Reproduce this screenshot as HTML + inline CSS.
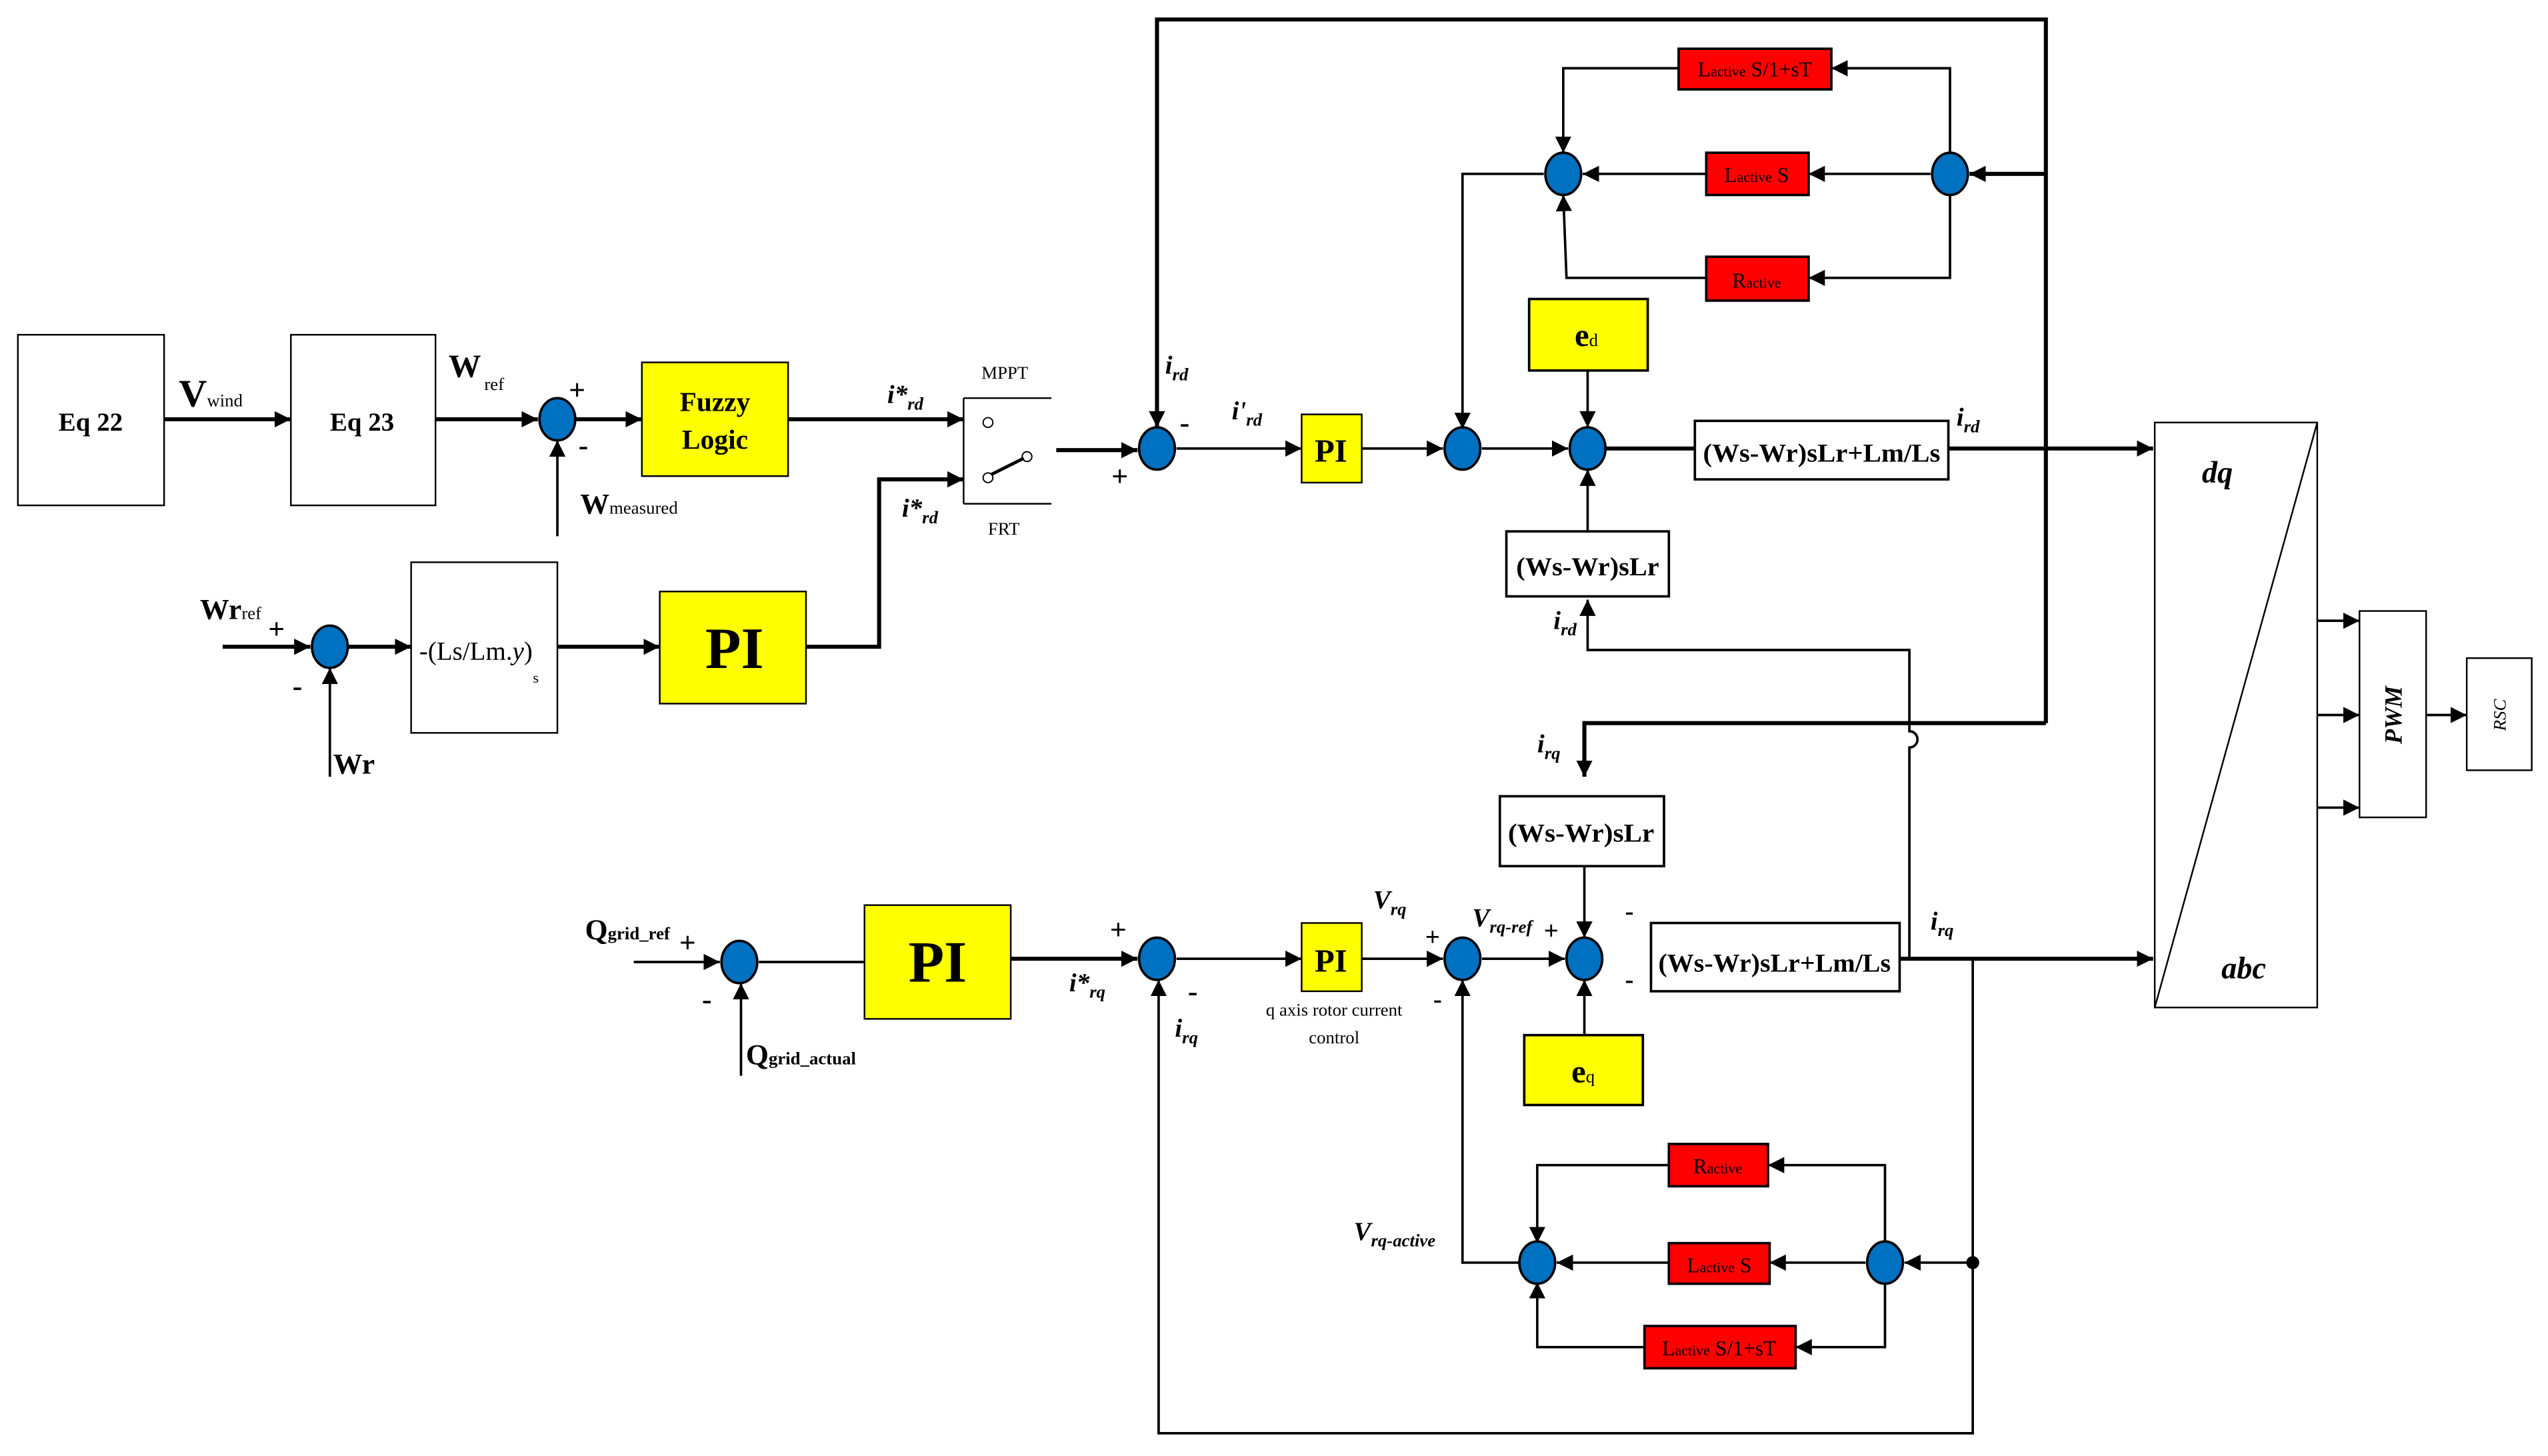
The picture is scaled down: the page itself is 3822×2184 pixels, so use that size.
<!DOCTYPE html>
<html><head><meta charset="utf-8"><style>html,body{margin:0;padding:0;background:#fff}svg{display:block}</style></head><body>
<svg width="3822" height="2184" viewBox="0 0 1568 896" xmlns="http://www.w3.org/2000/svg" font-family="Liberation Serif, serif">
<defs>
<marker id="b" viewBox="0 0 10 10" refX="10" refY="5" markerWidth="10" markerHeight="10" orient="auto" markerUnits="userSpaceOnUse"><path d="M0,0L10,5L0,10z" fill="#000"/></marker>
</defs>
<g fill="none" stroke="#000">
<rect x="11" y="206" width="90" height="105" stroke-width="1"/>
<rect x="179" y="206" width="89" height="105" stroke-width="1"/>
<rect x="253" y="346" width="90" height="105" stroke-width="1"/>
<rect x="395" y="223" width="90" height="70" fill="#ff0" stroke-width="1"/>
<rect x="406" y="364" width="90" height="69" fill="#ff0" stroke-width="1"/>
<rect x="532" y="557" width="90" height="70" fill="#ff0" stroke-width="1"/>
<rect x="801" y="255" width="37" height="42" fill="#ff0" stroke-width="1"/>
<rect x="801" y="568" width="37" height="42" fill="#ff0" stroke-width="1"/>
<rect x="941" y="184" width="73" height="44" fill="#ff0" stroke-width="1.5"/>
<rect x="938" y="637" width="73" height="43" fill="#ff0" stroke-width="1.5"/>
<path d="M593,245H647M593,310H647M593,245V310" stroke-width="1"/>
<rect x="1043" y="259" width="156" height="36" stroke-width="1.5"/>
<rect x="927" y="327" width="100" height="40" stroke-width="1.5"/>
<rect x="923" y="490" width="101" height="43" stroke-width="1.5"/>
<rect x="1016" y="568" width="153" height="42" stroke-width="1.5"/>
<rect x="1033" y="30" width="94" height="25" fill="#f00" stroke-width="1.5"/>
<rect x="1050" y="94" width="63" height="26" fill="#f00" stroke-width="1.5"/>
<rect x="1050" y="158" width="63" height="27" fill="#f00" stroke-width="1.5"/>
<rect x="1027" y="704" width="61" height="26" fill="#f00" stroke-width="1.5"/>
<rect x="1027" y="765" width="62" height="25" fill="#f00" stroke-width="1.5"/>
<rect x="1012" y="816" width="93" height="26" fill="#f00" stroke-width="1.5"/>
<rect x="1326" y="260" width="100" height="360" stroke-width="1"/>
<path d="M1426,260L1326,620" stroke-width="1"/>
<rect x="1452" y="376" width="41" height="127" stroke-width="1"/>
<rect x="1518" y="405" width="40" height="69" stroke-width="1"/>
<circle cx="608" cy="260" r="3" stroke-width="0.8"/>
<circle cx="608" cy="294" r="3" stroke-width="0.8"/>
<circle cx="632" cy="281" r="3" stroke-width="0.8"/>
<path d="M610,292L630,282" stroke-width="2"/>
<g stroke-width="2.5">
<path d="M101,258H179" marker-end="url(#b)"/>
<path d="M268,258H331" marker-end="url(#b)"/>
<path d="M354,258H395" marker-end="url(#b)"/>
<path d="M485,258H593" marker-end="url(#b)"/>
<path d="M137,398H191" marker-end="url(#b)"/>
<path d="M214,398H253" marker-end="url(#b)"/>
<path d="M343,398H406" marker-end="url(#b)"/>
<path d="M496,398H541V295H593" marker-end="url(#b)"/>
<path d="M650,277H700" marker-end="url(#b)"/>
<path d="M1199,276H1325" marker-end="url(#b)"/>
<path d="M988,276H1043"/>
<path d="M1259,445V12H712V263" marker-end="url(#b)"/>
<path d="M1259,445H975V478" marker-end="url(#b)"/>
<path d="M1259,107H1212" marker-end="url(#b)"/>
<path d="M622,590H700" marker-end="url(#b)"/>
<path d="M1169,590H1325" marker-end="url(#b)"/>
</g>
<g stroke-width="1.5">
<path d="M343,330V271" marker-end="url(#b)"/>
<path d="M203,478V411" marker-end="url(#b)"/>
<path d="M456,662V605" marker-end="url(#b)"/>
<path d="M390,592H443" marker-end="url(#b)"/>
<path d="M467,592H532"/>
<path d="M724,276H801" marker-end="url(#b)"/>
<path d="M838,276H888" marker-end="url(#b)"/>
<path d="M912,276H965" marker-end="url(#b)"/>
<path d="M977,228V263" marker-end="url(#b)"/>
<path d="M977,327V289" marker-end="url(#b)"/>
<path d="M1175,590V460a5,5 0 0 0 0,-10V400H977V369" marker-end="url(#b)"/>
<path d="M950,107H900V264" marker-end="url(#b)"/>
<path d="M1188,107H1113" marker-end="url(#b)"/>
<path d="M1050,107H974" marker-end="url(#b)"/>
<path d="M1200,95V42H1127" marker-end="url(#b)"/>
<path d="M1200,119V171H1113" marker-end="url(#b)"/>
<path d="M1033,42H962V94" marker-end="url(#b)"/>
<path d="M1050,171H964L962,120" marker-end="url(#b)"/>
<path d="M724,590H801" marker-end="url(#b)"/>
<path d="M838,590H888" marker-end="url(#b)"/>
<path d="M912,590H963" marker-end="url(#b)"/>
<path d="M975,533V577" marker-end="url(#b)"/>
<path d="M975,637V603" marker-end="url(#b)"/>
<path d="M1214,590V882H713V603" marker-end="url(#b)"/>
<path d="M1214,777H1172" marker-end="url(#b)"/>
<path d="M1148,777H1089" marker-end="url(#b)"/>
<path d="M1027,777H958" marker-end="url(#b)"/>
<path d="M1160,765V717H1088" marker-end="url(#b)"/>
<path d="M1160,789V829H1105" marker-end="url(#b)"/>
<path d="M1027,717H946V765" marker-end="url(#b)"/>
<path d="M1012,829H946V789" marker-end="url(#b)"/>
<path d="M935,777H900V603" marker-end="url(#b)"/>
<path d="M1426,382H1452" marker-end="url(#b)"/>
<path d="M1426,440H1452" marker-end="url(#b)"/>
<path d="M1426,497H1452" marker-end="url(#b)"/>
<path d="M1493,440H1518" marker-end="url(#b)"/>
</g>
<g fill="#0070c0" stroke-width="1.5">
<ellipse cx="343" cy="258" rx="11" ry="13"/>
<ellipse cx="203" cy="398" rx="11" ry="13"/>
<ellipse cx="455" cy="592" rx="11" ry="13"/>
<ellipse cx="712" cy="276" rx="11" ry="13"/>
<ellipse cx="900" cy="276" rx="11" ry="13"/>
<ellipse cx="977" cy="276" rx="11" ry="13"/>
<ellipse cx="962" cy="107" rx="11" ry="13"/>
<ellipse cx="1200" cy="107" rx="11" ry="13"/>
<ellipse cx="712" cy="590" rx="11" ry="13"/>
<ellipse cx="900" cy="590" rx="11" ry="13"/>
<ellipse cx="975" cy="590" rx="11" ry="13"/>
<ellipse cx="946" cy="777" rx="11" ry="13"/>
<ellipse cx="1160" cy="777" rx="11" ry="13"/>
</g>
<circle cx="1214" cy="777" r="4" fill="#000" stroke="none"/>
</g>
<g fill="#000" font-weight="bold">
<text x="36" y="265" font-size="16">Eq 22</text>
<text x="203" y="265" font-size="16">Eq 23</text>
<text x="110" y="250" font-size="24">V<tspan font-size="11" font-weight="normal">wind</tspan></text>
<text x="276" y="232" font-size="20">W</text><text x="298" y="240" font-size="11" font-weight="normal">ref</text>
<text x="350" y="246" font-size="18">+</text><text x="356" y="280" font-size="18">-</text>
<text x="357" y="316" font-size="18">W<tspan font-size="11" font-weight="normal">measured</tspan></text>
<text x="440" y="253" font-size="17" text-anchor="middle">Fuzzy</text>
<text x="440" y="276" font-size="17" text-anchor="middle">Logic</text>
<text x="452" y="411" font-size="36" text-anchor="middle">PI</text>
<text x="577" y="604" font-size="36" text-anchor="middle">PI</text>
<text x="819" y="284" font-size="20" text-anchor="middle">PI</text>
<text x="819" y="598" font-size="20" text-anchor="middle">PI</text>
<text x="123" y="381" font-size="18">Wr<tspan font-size="11" font-weight="normal">ref</tspan></text>
<text x="165" y="393" font-size="18">+</text><text x="180" y="428" font-size="18">-</text>
<text x="205" y="476" font-size="18">Wr</text>
<text x="258" y="406" font-size="16" font-weight="normal">-(Ls/Lm.<tspan font-style="italic">y</tspan>)</text><text x="328" y="420" font-size="9" font-weight="normal">s</text>
<text x="360" y="578" font-size="18">Q<tspan font-size="11">grid_ref</tspan></text>
<text x="418" y="586" font-size="18">+</text><text x="432" y="621" font-size="18">-</text>
<text x="459" y="655" font-size="18">Q<tspan font-size="11">grid_actual</tspan></text>
<g font-style="italic">
<text x="546" y="248" font-size="16">i*<tspan font-size="11" dy="4">rd</tspan></text>
<text x="555" y="318" font-size="16">i*<tspan font-size="11" dy="4">rd</tspan></text>
<text x="717" y="230" font-size="16">i<tspan font-size="11" dy="4">rd</tspan></text>
<text x="758" y="258" font-size="16">i'<tspan font-size="11" dy="4">rd</tspan></text>
<text x="1204" y="262" font-size="16">i<tspan font-size="11" dy="4">rd</tspan></text>
<text x="956" y="387" font-size="16">i<tspan font-size="11" dy="4">rd</tspan></text>
<text x="946" y="463" font-size="16">i<tspan font-size="11" dy="4">rq</tspan></text>
<text x="658" y="610" font-size="16">i*<tspan font-size="11" dy="4">rq</tspan></text>
<text x="723" y="638" font-size="16">i<tspan font-size="11" dy="4">rq</tspan></text>
<text x="1188" y="572" font-size="16">i<tspan font-size="11" dy="4">rq</tspan></text>
<text x="845" y="559" font-size="16">V<tspan font-size="11" dy="4">rq</tspan></text>
<text x="906" y="570" font-size="16">V<tspan font-size="11" dy="4">rq-ref</tspan></text>
<text x="833" y="763" font-size="16">V<tspan font-size="11" dy="4">rq-active</tspan></text>
<text x="1355" y="297" font-size="19">dq</text>
<text x="1367" y="602" font-size="19">abc</text>
<text x="1478" y="440" font-size="15" transform="rotate(-90 1478 440)" text-anchor="middle">PWM</text>
<text x="1542" y="440" font-size="11" font-weight="normal" transform="rotate(-90 1542 440)" text-anchor="middle">RSC</text>
</g>
<text x="726" y="266" font-size="18">-</text><text x="684" y="299" font-size="18">+</text>
<text x="683" y="578" font-size="18">+</text><text x="731" y="616" font-size="18">-</text>
<text x="877" y="582" font-size="16">+</text><text x="882" y="620" font-size="16">-</text>
<text x="950" y="578" font-size="16">+</text><text x="1000" y="566" font-size="16">-</text><text x="1000" y="608" font-size="16">-</text>
<g font-weight="normal" font-size="11">
<text x="604" y="233">MPPT</text><text x="608" y="329">FRT</text>
<text x="821" y="625" text-anchor="middle">q axis rotor current</text>
<text x="821" y="642" text-anchor="middle">control</text>
</g>
<text x="969" y="213" font-size="20">e<tspan font-size="11" font-weight="normal">d</tspan></text>
<text x="967" y="666" font-size="20">e<tspan font-size="11" font-weight="normal">q</tspan></text>
<text x="1121" y="284" font-size="16" text-anchor="middle" textLength="146" lengthAdjust="spacingAndGlyphs">(Ws-Wr)sLr+Lm/Ls</text>
<text x="1092" y="598" font-size="16" text-anchor="middle" textLength="143" lengthAdjust="spacingAndGlyphs">(Ws-Wr)sLr+Lm/Ls</text>
<text x="977" y="354" font-size="16" text-anchor="middle" textLength="88" lengthAdjust="spacingAndGlyphs">(Ws-Wr)sLr</text>
<text x="973" y="518" font-size="16" text-anchor="middle" textLength="90" lengthAdjust="spacingAndGlyphs">(Ws-Wr)sLr</text>
<g font-weight="normal" font-size="13">
<text x="1080" y="47" text-anchor="middle">L<tspan font-size="9">active</tspan> S/1+sT</text>
<text x="1081" y="112" text-anchor="middle">L<tspan font-size="9">active</tspan> S</text>
<text x="1081" y="177" text-anchor="middle">R<tspan font-size="9">active</tspan></text>
<text x="1057" y="722" text-anchor="middle">R<tspan font-size="9">active</tspan></text>
<text x="1058" y="783" text-anchor="middle">L<tspan font-size="9">active</tspan> S</text>
<text x="1058" y="834" text-anchor="middle">L<tspan font-size="9">active</tspan> S/1+sT</text>
</g>
</g>
</svg>
</body></html>
